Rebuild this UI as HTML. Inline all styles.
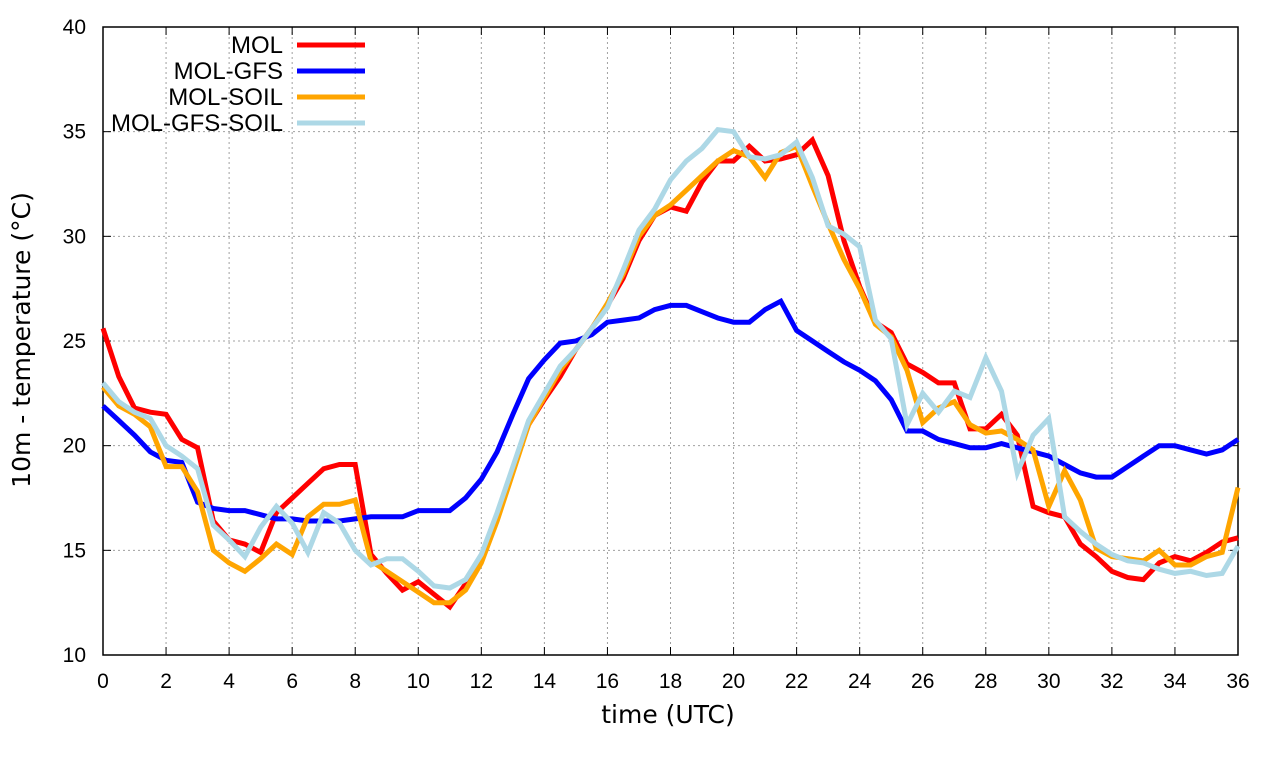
<!DOCTYPE html>
<html><head><meta charset="utf-8"><style>
body{margin:0;background:#fff}
svg{display:block;font-family:"Liberation Sans",sans-serif}
</style></head><body>
<svg id="chart" width="1280" height="760" viewBox="0 0 1280 760">
<g id="grid"></g>
<g id="axes"></g>
<g id="series"></g>
<g id="legend"></g>
<text x="668" y="723" font-size="25" text-anchor="middle" style="font-family:'DejaVu Sans',sans-serif">time (UTC)</text>
<text x="0" y="0" font-size="25" text-anchor="middle" style="font-family:'DejaVu Sans',sans-serif" transform="translate(30,340) rotate(-90)">10m - temperature (°C)</text>
</svg>
<script>
const xTicks=[0,2,4,6,8,10,12,14,16,18,20,22,24,26,28,30,32,34,36];
const yTicks=[10,15,20,25,30,35,40];
const seriesNames=["MOL","MOL-GFS","MOL-SOIL","MOL-GFS-SOIL"];
const seriesColors=["#ff0000","#0000ff","#ffa500","#add8e6"];
const mol=[25.6,23.3,21.8,21.6,21.5,20.3,19.9,16.4,15.5,15.3,14.9,16.8,17.5,18.2,18.9,19.1,19.1,14.8,13.9,13.1,13.5,12.9,12.3,13.4,14.7,16.6,18.9,21.0,22.2,23.3,24.6,25.6,26.7,28.0,29.8,31.0,31.4,31.2,32.6,33.6,33.6,34.3,33.6,33.7,33.9,34.6,32.9,29.8,27.6,25.9,25.4,23.9,23.5,23.0,23.0,20.8,20.8,21.5,20.5,17.1,16.8,16.6,15.3,14.7,14.0,13.7,13.6,14.4,14.7,14.5,14.9,15.4,15.6];
const molGfs=[21.9,21.2,20.5,19.7,19.3,19.2,17.3,17.0,16.9,16.9,16.7,16.5,16.5,16.4,16.4,16.4,16.5,16.6,16.6,16.6,16.9,16.9,16.9,17.5,18.4,19.7,21.5,23.2,24.1,24.9,25.0,25.3,25.9,26.0,26.1,26.5,26.7,26.7,26.4,26.1,25.9,25.9,26.5,26.9,25.5,25.0,24.5,24.0,23.6,23.1,22.2,20.7,20.7,20.3,20.1,19.9,19.9,20.1,19.9,19.7,19.5,19.1,18.7,18.5,18.5,19.0,19.5,20.0,20.0,19.8,19.6,19.8,20.3];
const molSoil=[22.8,21.9,21.5,20.9,19.0,19.0,17.8,15.0,14.4,14.0,14.6,15.3,14.8,16.6,17.2,17.2,17.4,14.5,14.0,13.5,13.0,12.5,12.5,13.1,14.4,16.4,18.7,21.0,22.3,23.6,24.6,25.6,26.8,28.2,30.0,31.0,31.5,32.2,32.9,33.6,34.1,33.8,32.8,34.0,34.3,32.4,30.6,28.9,27.5,25.8,25.2,23.6,21.1,21.8,22.1,21.0,20.6,20.7,20.3,19.8,17.1,18.8,17.4,15.1,14.7,14.6,14.5,15.0,14.3,14.3,14.7,14.9,18.0];
const molGfsSoil=[23.0,22.1,21.6,21.3,20.0,19.5,18.9,16.2,15.5,14.7,16.1,17.1,16.3,14.9,16.8,16.3,15.0,14.3,14.6,14.6,14.0,13.3,13.2,13.6,14.8,16.8,19.0,21.2,22.5,23.8,24.6,25.6,26.6,28.4,30.3,31.3,32.7,33.6,34.2,35.1,35.0,33.8,33.7,33.9,34.5,32.8,30.5,30.1,29.5,26.0,25.1,21.0,22.5,21.6,22.6,22.3,24.2,22.6,18.7,20.5,21.3,16.6,15.9,15.3,14.8,14.5,14.4,14.1,13.9,14.0,13.8,13.9,15.2];
const seriesData=[mol,molGfs,molSoil,molGfsSoil];
const X0=103,X1=1238,Y0=655,Y1=27;
const xs=t=>X0+(t-0)/36*(X1-X0);
const ys=v=>Y0-(v-10)/30*(Y0-Y1);
const NS="http://www.w3.org/2000/svg";
function mk(tag,parent,attrs){const e=document.createElementNS(NS,tag);for(const k in attrs)e.setAttribute(k,attrs[k]);parent.appendChild(e);return e;}
const grid=document.getElementById('grid'),axes=document.getElementById('axes'),ser=document.getElementById('series'),leg=document.getElementById('legend');
xTicks.forEach(t=>{const x=xs(t);
 if(t>0&&t<36){const g=mk('line',grid,{x1:x,x2:x,y1:Y1,y2:Y0,stroke:'#a0a0a0','stroke-dasharray':'2,3','stroke-width':1});
 
 }
 const tk=mk('line',axes,{x1:x,x2:x,y1:Y0,y2:Y0-8,stroke:'#000'});
 
 
 const tk2=mk('line',axes,{x1:x,x2:x,y1:Y1,y2:Y1+8,stroke:'#000'});
 
 
 const l=mk('text',axes,{x:x,y:688,'font-size':21,'text-anchor':'middle'});l.textContent=t;
 
 
});
yTicks.forEach(v=>{const y=ys(v);
 if(v>10&&v<40){const g=mk('line',grid,{x1:X0,x2:X1,y1:y,y2:y,stroke:'#a0a0a0','stroke-dasharray':'2,3','stroke-width':1});
 
 }
 const tk=mk('line',axes,{x1:X0,x2:X0+8,y1:y,y2:y,stroke:'#000'});
 
 
 const tk2=mk('line',axes,{x1:X1,x2:X1-8,y1:y,y2:y,stroke:'#000'});
 
 
 const l=mk('text',axes,{x:86,y:y+7,'font-size':21,'text-anchor':'end'});l.textContent=v;
 
 
});
const fr=mk('rect',axes,{x:X0,y:Y1,width:X1-X0,height:Y0-Y1,fill:'none',stroke:'#000','stroke-width':1.5});


seriesData.forEach((d,i)=>{
 const pts=d.map((v,j)=>xs(j*0.5).toFixed(1)+','+ys(v).toFixed(1)).join(' ');
 const p=mk('polyline',ser,{points:pts,fill:'none',stroke:seriesColors[i],'stroke-width':5,'stroke-linejoin':'miter'});
 
 
 const ly=45+i*26;
 const t=mk('text',leg,{x:283,y:ly+8,'font-size':24,'text-anchor':'end'});t.textContent=seriesNames[i];
 
 
 const ll=mk('line',leg,{x1:297,x2:365,y1:ly,y2:ly,stroke:seriesColors[i],'stroke-width':5});
 
 
});
</script>
</body></html>
